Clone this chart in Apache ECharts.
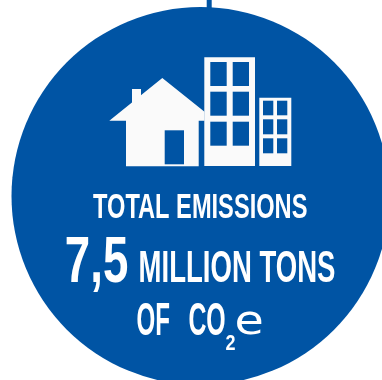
<!DOCTYPE html>
<html>
<head>
<meta charset="utf-8">
<style>html,body{margin:0;padding:0;background:#fff}#c{width:382px;height:380px}</style>
<script src="https://cdn.jsdelivr.net/npm/echarts@6/dist/echarts.min.js"></script>
</head>
<body>
<div id="c"></div>
<script>
// Headline figures of the badge
const emissionsValue = [7.5];
const headline = "TOTAL EMISSIONS";
const valueLabel = "7,5";
const unitLabel = "MILLION TONS";
const ofLabel = "OF";
const gasLabel = "CO";
const gasSubscript = "2";
const gasSuffix = "e";

const BLUE = "#0054a4";
const PALE = "#fafafa";
const FONT = '"Liberation Sans Narrow", "Liberation Sans", Roboto, sans-serif';

const ruler = document.createElement("canvas").getContext("2d");

// Text element stretched so its ink spans [left, right] and [top, bottom];
// refChar sets the glyph whose height stands for the line's cap height.
function fitted(text, left, right, top, bottom, weight, family, refChar) {
  const size = 40;
  const font = `${weight} ${size}px ${family || FONT}`;
  ruler.font = font;
  ruler.textBaseline = "middle";
  ruler.textAlign = "left";
  const line = ruler.measureText(text);
  const ink = ruler.measureText(refChar || "H");
  const inkLeft = -line.actualBoundingBoxLeft;
  const inkWidth = line.actualBoundingBoxRight + line.actualBoundingBoxLeft;
  const inkTop = -ink.actualBoundingBoxAscent;
  const inkHeight = ink.actualBoundingBoxDescent + ink.actualBoundingBoxAscent;
  const sx = (right - left) / inkWidth;
  const sy = (bottom - top) / inkHeight;
  return {
    type: "text",
    x: left - inkLeft * sx,
    y: top - inkTop * sy,
    z: 10,
    scaleX: sx,
    scaleY: sy,
    silent: true,
    style: { text, font, fill: "#fff", textAlign: "left", textVerticalAlign: "middle" }
  };
}

function box(x0, y0, x1, y1, fill, z) {
  return { type: "rect", z: z || 10, shape: { x: x0, y: y0, width: x1 - x0, height: y1 - y0 }, style: { fill }, silent: true };
}

// House with chimney and door
const house = [
  box(132, 89, 141, 108, PALE),
  { type: "polygon", z: 10, silent: true, style: { fill: PALE },
    shape: { points: [[109.3,120.7],[162.3,78],[204.5,111.7],[204.5,120.7],[198.7,120.7],[198.7,166.3],[126,166.3],[126,120.7]] } },
  box(164.7, 130.3, 184, 164.3, BLUE, 11)
];

// Two towers and their window grids
function tower(x0, y0, x1, y1, cols, rows) {
  const parts = [box(x0, y0, x1, y1, PALE)];
  rows.forEach(r => cols.forEach(c => parts.push(box(c[0], r[0], c[1], r[1], BLUE, 11))));
  return parts;
}
const towers = [
  ...tower(204.3, 57.3, 255, 166, [[210.3,226.7],[232.7,249]], [[62,86],[91.7,115.7],[121.7,145.7]]),
  ...tower(259.3, 97.7, 291.3, 166, [[263,273.3],[277,287.3]], [[100.7,115.3],[119.3,134.3],[138.3,153.3]])
];

const chart = echarts.init(document.getElementById("c"), null, { renderer: "canvas" });
chart.setOption({
  animation: false,
  backgroundColor: "#fff",
  series: [{
    type: "pie",
    silent: true,
    z: 1,
    center: [200.5, 196],
    radius: [0, 189],
    label: { show: false },
    labelLine: { show: false },
    itemStyle: { color: BLUE },
    data: emissionsValue
  }],
  graphic: { elements: [
    box(206.7, 0, 211.7, 10, BLUE),
    ...house,
    ...towers,
    fitted(headline, 93, 307, 192.5, 217.5, "bold"),
    fitted(valueLabel, 66, 128, 237, 282, "bold", null, "7"),
    fitted(unitLabel, 140, 335, 251.5, 282, "bold"),
    fitted(ofLabel, 137, 169, 303, 335, "bold"),
    fitted(gasLabel, 189, 225, 303, 335, "bold"),
    fitted(gasSubscript, 226, 235, 335, 350, "bold", null, "2"),
    fitted(gasSuffix, 237, 262, 311, 335.5, "normal", '"DejaVu Sans", sans-serif', "e")
  ] }
});
</script>
</body>
</html>
